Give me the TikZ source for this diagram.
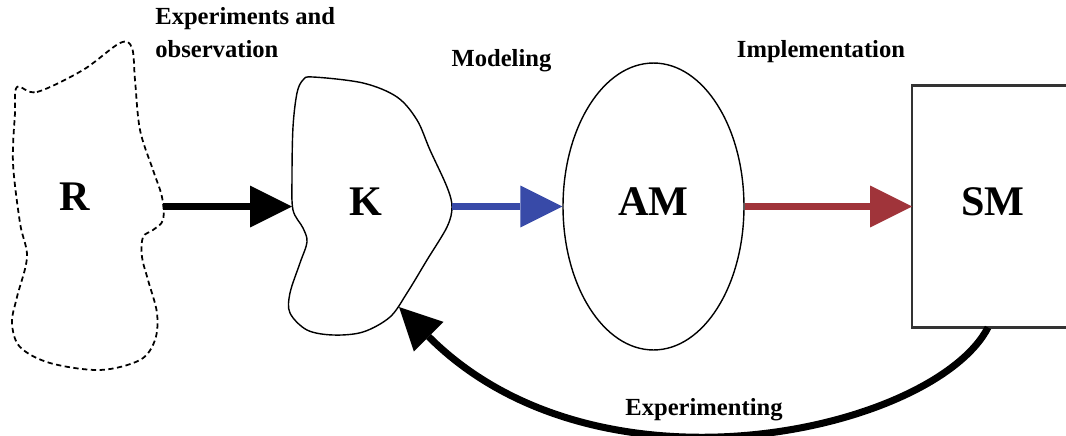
\documentclass[tikz,border=0pt]{standalone}
\usepackage{fontspec}
\setmainfont{Liberation Serif}
\usetikzlibrary{arrows.meta,positioning,shapes.geometric}
\definecolor{modblue}{RGB}{56,74,168}
\definecolor{impred}{RGB}{160,52,58}

\begin{document}
\begin{tikzpicture}[x=0.02cm,y=-0.02cm,
  blob/.style={line width=0.8pt,smooth cycle,tension=0.55},
  big/.style={font=\fontsize{24}{28}\selectfont\bfseries,text depth=6pt,inner sep=0pt},
  lbl/.style={font=\fontsize{14}{18.7}\selectfont\bfseries,inner sep=0pt},
  flow/.style={line width=3.8pt,-{Triangle[length=0.84cm,width=0.84cm,line width=0pt]}}]
\useasboundingbox (0,0) rectangle (1066,436);
\clip (0,0) rectangle (1066,436);

% reality and knowledge
\draw[blob,line width=1pt,dash pattern=on 3pt off 2pt] plot coordinates {(17,87) (37,92) (83,70) (120,43) (132,48) (135,80) (140,130) (153,170) (162,197) (163,220) (153,230) (143,237) (142,257) (148,280) (157,313) (155,340) (140,360) (100,370) (50,363) (20,347) (12,323) (17,297) (27,257) (20,223) (13,163) (15,113)};
\draw[blob] plot coordinates {(303,80) (313,77) (363,83) (397,97) (417,120) (430,150) (447,187) (452,207) (447,227) (427,260) (407,293) (390,317) (363,332) (333,335) (307,330) (290,313) (290,293) (300,263) (307,242) (303,228) (293,210) (292,177) (293,127) (297,93)};
\node[big,anchor=base] (R) at (75,210) {R};
\node[big,anchor=base] (K) at (366,215) {K};
\coordinate (Rout) at (163,206.5);
\coordinate (Kin) at (292,206.5);
\coordinate (Kout) at (452,206.5);
\coordinate (Kback) at (399,307);

% models
\node[big,draw,ellipse,line width=0.8pt,minimum width=3.62cm,minimum height=5.74cm] (AM) at (653.5,206.5) {AM};
\node[rectangle,minimum width=4cm,minimum height=4.84cm,outer sep=0pt] (SMbox) at (1012,206.5) {};
\draw[draw=black!80,line width=1.3pt] (SMbox.north east) -- (SMbox.north west) -- (SMbox.south west) -- (SMbox.south east);
\node[big] (SM) at (993,206.5) {SM};

\draw[flow] (Rout) -- (Kin);
\draw[flow,modblue] (Kout) -- (AM);
\draw[flow,impred] (AM) -- (SMbox);
\draw[flow,line width=4pt] ([xshift=-0.48cm]SMbox.south) .. controls (935,430) and (600,508) .. (Kback);

% labels
\node[lbl,align=left,anchor=north west] (obs) at (155,7.5) {Experiments and\\observation};
\node[lbl,anchor=base] (mod) at (501.5,67) {Modeling};
\node[lbl,anchor=base] (imp) at (821,57) {Implementation};
\node[lbl,anchor=base] (exp) at (704,415) {Experimenting};
\end{tikzpicture}
\end{document}
